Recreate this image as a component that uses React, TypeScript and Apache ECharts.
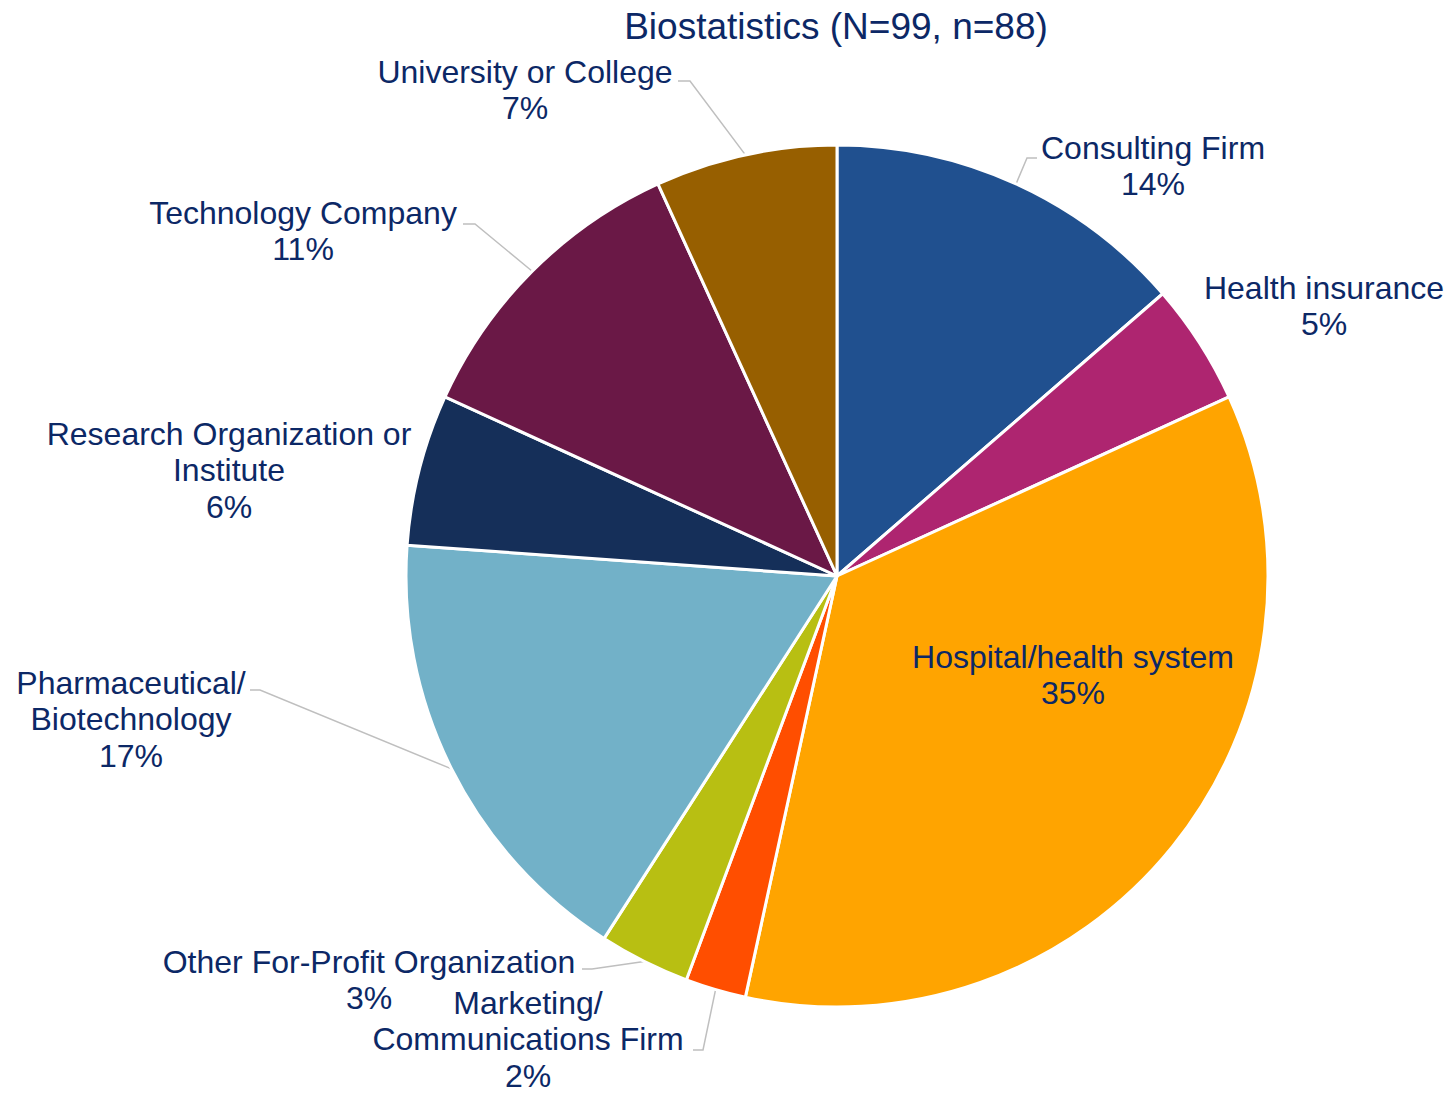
import React, { useEffect, useRef } from "react";
import * as echarts from "echarts";

const titleText = "Biostatistics (N=99, n=88)";
const categories = [
  "Consulting Firm",
  "Health insurance",
  "Hospital/health system",
  "Marketing/\nCommunications Firm",
  "Other For-Profit Organization",
  "Pharmaceutical/\nBiotechnology",
  "Research Organization or\nInstitute",
  "Technology Company",
  "University or College",
];
const counts = [12, 4, 31, 2, 3, 15, 5, 10, 6];
const colors = [
  "#20508F",
  "#AE2570",
  "#FFA400",
  "#FF4E00",
  "#B8BF12",
  "#72B1C8",
  "#152F59",
  "#6A1846",
  "#975F00",
];

// label placement (centre of text block) and leader-line elbow/end points
const labelPos: [number, number][] = [
  [1153, 166],
  [1324, 306],
  [1073, 675],
  [528, 1039],
  [369, 980],
  [131, 719],
  [229, 470],
  [303, 231],
  [525, 90],
];
const leader: ([number, number][] | null)[] = [
  [[1027, 158], [1037, 158]],
  null,
  null,
  [[703, 1050], [693, 1050]],
  [[592, 969], [582, 969]],
  [[260, 690], [250, 690]],
  null,
  [[475, 224], [463, 224]],
  [[690, 81], [678, 81]],
];

const TEXT = "#0C2866";
const FONT = "'Liberation Sans', Arial, sans-serif";

export default function App() {
  const ref = useRef<HTMLDivElement>(null);
  useEffect(() => {
    if (!ref.current) return;
    const chart = echarts.init(ref.current, null, { renderer: "svg" });
    const data = categories.map((name, i) => ({
      name,
      value: counts[i],
      itemStyle: { color: colors[i] },
      labelLine: { show: leader[i] !== null },
    }));
    chart.setOption({
      animation: false,
      backgroundColor: "#ffffff",
      title: {
        text: titleText,
        left: 831,
        top: 3,
        textAlign: "center",
        textStyle: {
          color: TEXT,
          fontFamily: FONT,
          fontSize: 37,
          fontWeight: "normal",
        },
      },
      series: [
        {
          type: "pie",
          center: [837, 576],
          radius: 431,
          startAngle: 90,
          clockwise: true,
          percentPrecision: 0,
          avoidLabelOverlap: false,
          silent: true,
          itemStyle: { borderColor: "#ffffff", borderWidth: 3 },
          label: {
            show: true,
            position: "outside",
            formatter: "{b}\n{d}%",
            color: TEXT,
            fontFamily: FONT,
            fontSize: 32,
            lineHeight: 36.5,
            align: "center",
          },
          labelLine: {
            show: true,
            lineStyle: { color: "#BFBFBF", width: 1.5 },
          },
          labelLayout: (params: any) => {
            const i = params.dataIndex;
            const [x, y] = labelPos[i];
            const res: any = {
              x,
              y,
              align: "center",
              verticalAlign: "middle",
            };
            const l = leader[i];
            if (l && params.labelLinePoints && params.labelLinePoints[0]) {
              res.labelLinePoints = [
                params.labelLinePoints[0],
                l[0],
                l[1],
              ];
            }
            return res;
          },
          data,
        },
      ],
    });
    return () => chart.dispose();
  }, []);
  return (
    <div
      ref={ref}
      style={{ position: "absolute", left: 0, top: 0, width: 1453, height: 1094 }}
    />
  );
}
